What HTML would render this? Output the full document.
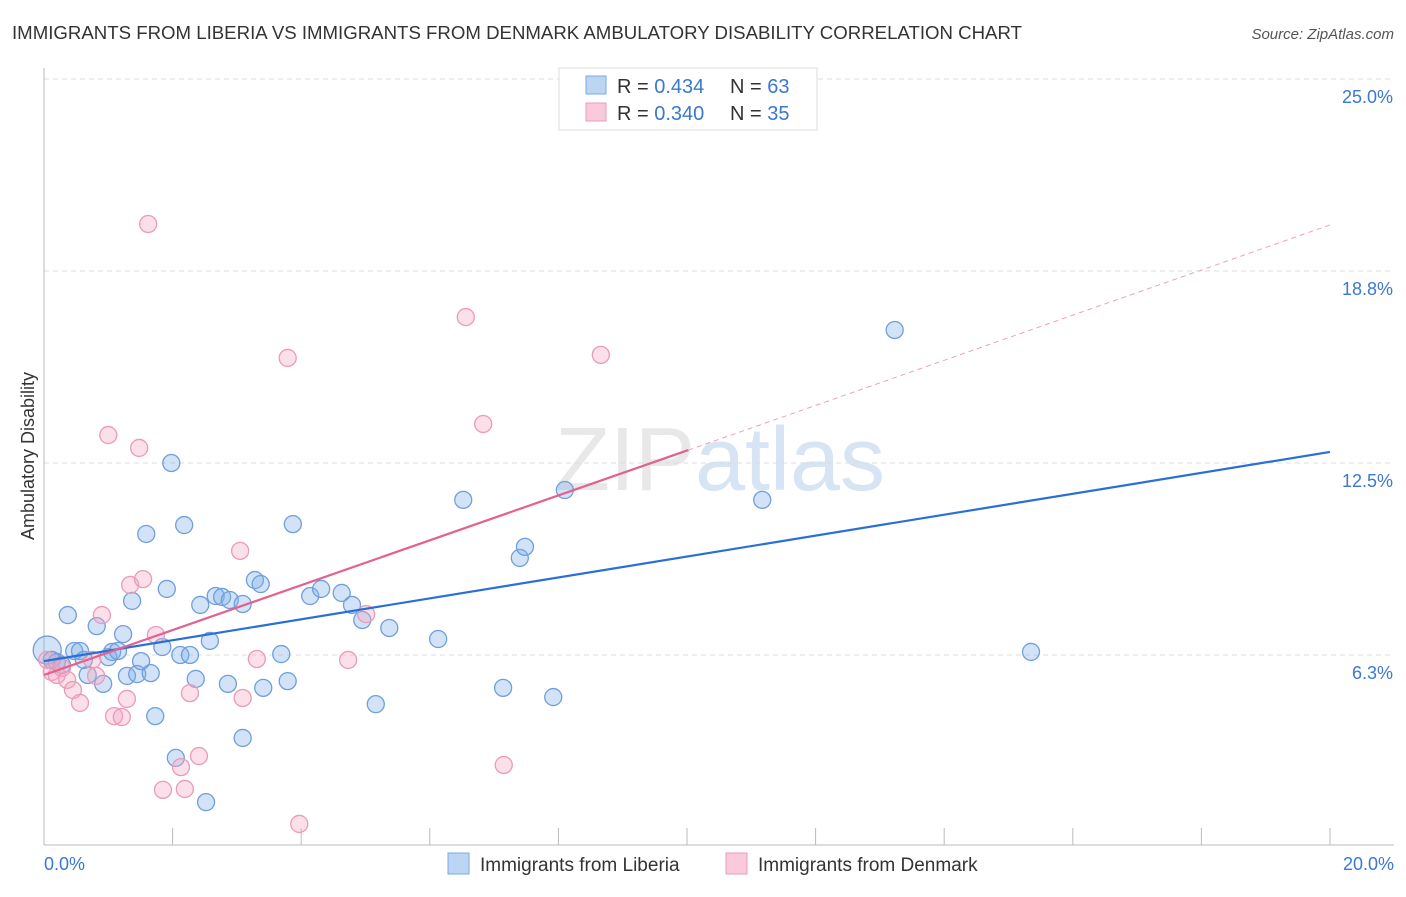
<!DOCTYPE html>
<html><head><meta charset="utf-8"><style>
body{margin:0;background:#fff;font-family:"Liberation Sans",sans-serif;}
svg text{font-family:"Liberation Sans",sans-serif;}
</style></head><body>
<svg id="chart" width="1406" height="892" xmlns="http://www.w3.org/2000/svg">
<text x="12" y="39" font-size="18.6" fill="#333" textLength="1010" lengthAdjust="spacingAndGlyphs">IMMIGRANTS FROM LIBERIA VS IMMIGRANTS FROM DENMARK AMBULATORY DISABILITY CORRELATION CHART</text>
<text x="1394" y="39" font-size="15" fill="#555" text-anchor="end" font-style="italic">Source: ZipAtlas.com</text>
<text x="720" y="490" font-size="90" fill="#e8e8e8" text-anchor="middle" font-family="Liberation Serif">ZIP<tspan fill="#d6e4f4" font-family="Liberation Sans">atlas</tspan></text>
<g id="grid"></g>
<g id="axes"></g>
<g id="marks"></g>
<text transform="translate(34,456) rotate(-90)" font-size="18" fill="#333" text-anchor="middle">Ambulatory Disability</text>
<text x="44" y="870" font-size="18" fill="#3a78d4">0.0%</text>
<text x="1394" y="870" font-size="18" fill="#3a78d4" text-anchor="end">20.0%</text>
<g>
<rect x="559" y="68" width="258" height="62" fill="#fff" stroke="#ddd"/>
<rect x="586" y="76" width="20" height="18" fill="#bcd5f3" stroke="#7aa8e0"/>
<rect x="586" y="103" width="20" height="18" fill="#f9cadb" stroke="#ec9bb8"/>
<text x="617" y="93" font-size="20" fill="#333">R = <tspan fill="#3a78d4">0.434</tspan></text>
<text x="730" y="93" font-size="20" fill="#333">N = <tspan fill="#3a78d4">63</tspan></text>
<text x="617" y="120" font-size="20" fill="#333">R = <tspan fill="#3a78d4">0.340</tspan></text>
<text x="730" y="120" font-size="20" fill="#333">N = <tspan fill="#3a78d4">35</tspan></text>
</g>
<g>
<rect x="448" y="853" width="21" height="21" fill="#bcd5f3" stroke="#7aa8e0"/>
<text x="480" y="871" font-size="19" fill="#333">Immigrants from Liberia</text>
<rect x="726" y="853" width="21" height="21" fill="#f9cadb" stroke="#ec9bb8"/>
<text x="758" y="871" font-size="19" fill="#333">Immigrants from Denmark</text>
</g>
</svg>
<script>
const yTicks=[25,18.75,12.5,6.25];
const yTickLabels=["25.0%","18.8%","12.5%","6.3%"];
const xTicks=[0,2,4,6,8,10,12,14,16,18,20];
const blueX=[0.05,0.12,0.2,0.28,0.37,0.47,0.56,0.62,0.68,0.82,0.92,1.0,1.06,1.15,1.23,1.29,1.37,1.45,1.51,1.59,1.66,1.73,1.84,1.91,1.98,2.05,2.12,2.18,2.27,2.36,2.43,2.52,2.58,2.67,2.77,2.86,2.89,3.09,3.09,3.28,3.37,3.41,3.69,3.79,3.87,4.14,4.31,4.63,4.79,4.95,5.16,5.37,6.13,6.52,7.14,7.40,7.48,7.92,8.10,11.17,13.23,15.35];
const blueY=[6.41,6.09,6.02,5.92,7.55,6.38,6.38,6.09,5.60,7.19,5.31,6.18,6.35,6.38,6.93,5.57,8.01,5.63,6.05,10.19,5.66,4.26,6.51,8.40,12.50,2.90,6.25,10.48,6.25,5.47,7.88,1.46,6.71,8.17,8.14,5.31,8.04,7.91,3.55,8.69,8.56,5.18,6.28,5.40,10.51,8.17,8.40,8.27,7.88,7.39,4.65,7.13,6.77,11.30,5.18,9.41,9.77,4.88,11.62,11.30,16.83,6.35];
const pinkX=[0.05,0.12,0.2,0.28,0.36,0.45,0.56,0.75,0.81,0.9,1.0,1.09,1.21,1.29,1.34,1.48,1.54,1.62,1.74,1.85,2.13,2.19,2.27,2.41,3.05,3.09,3.31,3.79,3.97,4.73,5.01,6.56,6.83,7.15,8.66];
const pinkY=[6.09,5.70,5.60,5.83,5.44,5.11,4.69,6.09,5.57,7.55,13.41,4.26,4.23,4.82,8.53,12.99,8.72,20.28,6.90,1.86,2.60,1.89,5.01,2.96,9.64,4.85,6.12,15.92,0.75,6.09,7.58,17.25,13.77,2.67,16.02];
const blueTrend=[[0,6.05],[20,12.86]];
const pinkTrend=[[0,5.6],[10.02,12.92]];
const pinkDash=[[10.02,12.92],[20,20.25]];

const X=v=>44+v*64.3;
const Y=v=>79+(25-v)*30.72;
const NS="http://www.w3.org/2000/svg";
function mk(tag,attrs,parent){const e=document.createElementNS(NS,tag);for(const k in attrs)e.setAttribute(k,attrs[k]);document.getElementById(parent).appendChild(e);return e;}

yTicks.forEach((t,i)=>{
  const l=mk('line',{x1:44,x2:1394,y1:Y(t),y2:Y(t),stroke:'#ddd','stroke-dasharray':'5,4'},'grid');
  
  
  const tx=mk('text',{x:1393,y:Y(t)+24,'font-size':18,fill:'#3a78d4','text-anchor':'end'},'grid');
  tx.textContent=yTickLabels[i];
  
  
});
let a=mk('line',{x1:44,x2:44,y1:68,y2:845,stroke:'#bbb'},'axes');


a=mk('line',{x1:44,x2:1394,y1:845,y2:845,stroke:'#bbb'},'axes');


xTicks.forEach(t=>{
  const l=mk('line',{x1:X(t),x2:X(t),y1:828,y2:845,stroke:'#bbb'},'axes');
  
  
});
function dot(x,y,fill,stroke,name,r){
  const c=mk('circle',{cx:X(x),cy:Y(y),r:r,fill:fill,stroke:stroke,'stroke-width':1.3},'marks');
  
  
}
blueX.forEach((x,i)=>dot(x,blueY[i],'rgba(130,175,232,0.35)','#6f9fdc','liberia-point',i===0?14:8.5));
pinkX.forEach((x,i)=>dot(x,pinkY[i],'rgba(244,165,195,0.35)','#eb9ab7','denmark-point',8.5));
function line(p,col,w,dash,name){
  const l=mk('line',{x1:X(p[0][0]),y1:Y(p[0][1]),x2:X(p[1][0]),y2:Y(p[1][1]),stroke:col,'stroke-width':w},'marks');
  if(dash)l.setAttribute('stroke-dasharray',dash);
  
  
}
line(pinkDash,'#eca0bb',1,'5,4','denmark-trend-extension');
line(blueTrend,'#2a6fd6',2.2,null,'liberia-trend-line');
line(pinkTrend,'#e2618e',2.2,null,'denmark-trend-line');
</script>
</body></html>
